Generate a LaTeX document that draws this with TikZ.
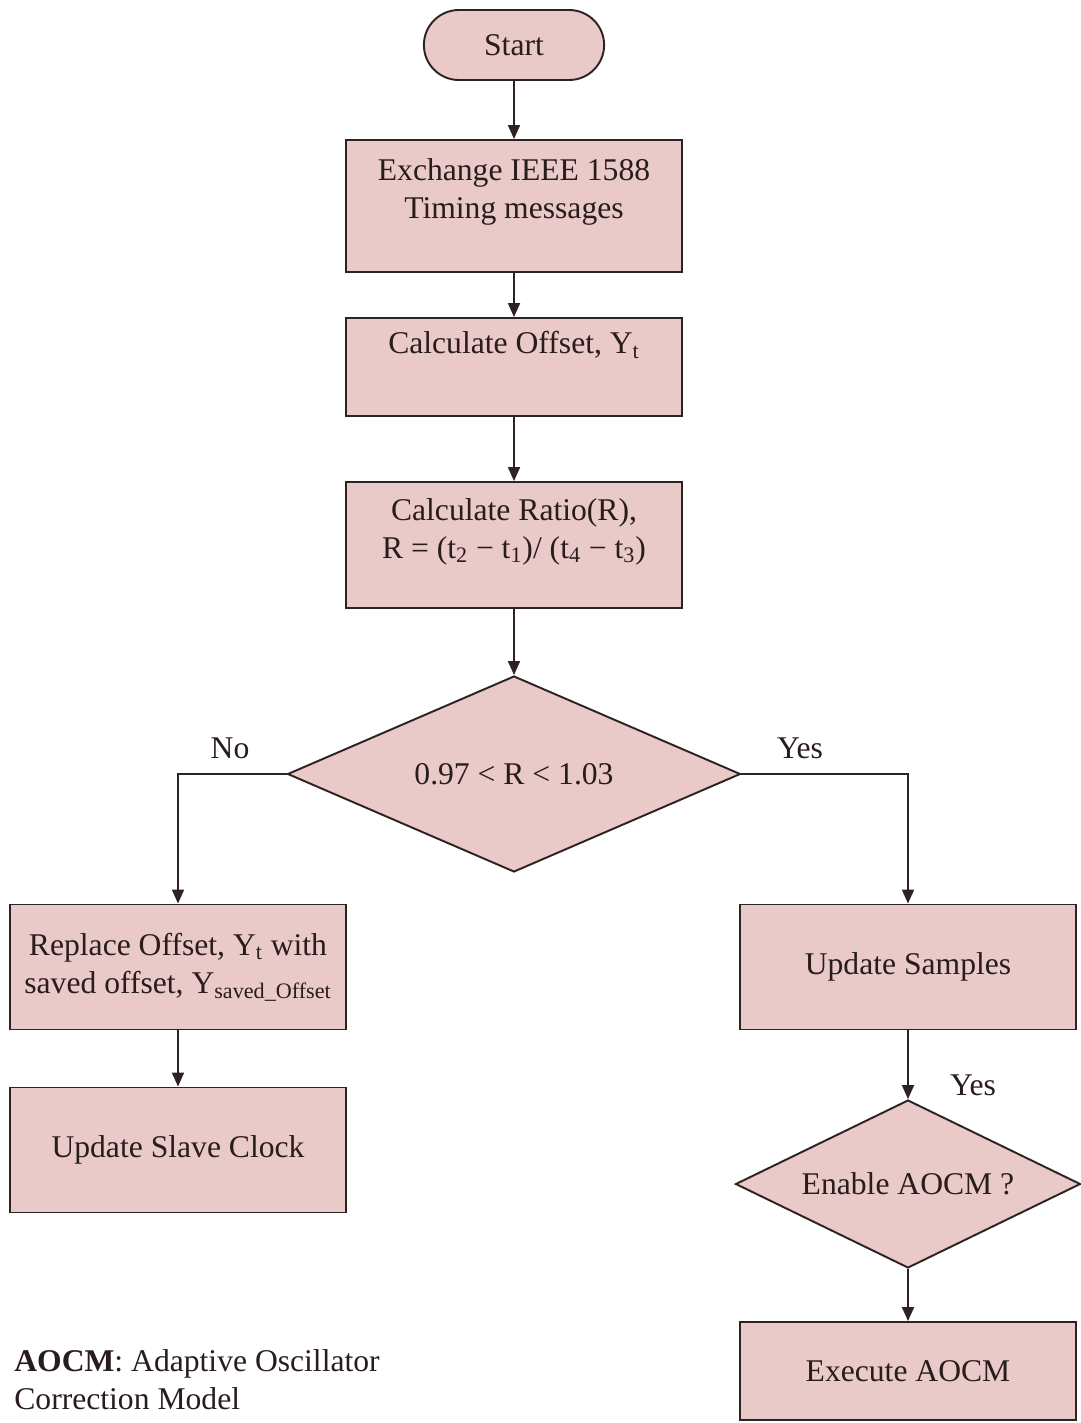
\documentclass[tikz,border=0pt]{standalone}
\usepackage{fontspec}
\setmainfont{Liberation Serif}
\usetikzlibrary{shapes.geometric,shapes.misc,arrows.meta}

\definecolor{caixa}{RGB}{234,201,201}
\definecolor{linha}{RGB}{45,35,35}
\definecolor{texto}{RGB}{40,28,28}

\tikzset{
  bloco/.style={draw=linha, line width=1.1pt, fill=caixa, minimum width=6.72cm, align=center, inner sep=0pt},
  decisao/.style={diamond, draw=linha, line width=1.1pt, fill=caixa, aspect=2.3, inner sep=0pt},
  inicio/.style={rounded rectangle, draw=linha, line width=1.1pt, fill=caixa, minimum width=3.84cm, minimum height=1.4cm},
  seta/.style={draw=linha, line width=1.1pt, -{Triangle[length=0.28cm,width=0.24cm]}},
  rotulo/.style={inner sep=0pt}
}

\begin{document}
\begin{tikzpicture}[x=0.02cm, y=-0.02cm, font=\fontsize{18}{21.6}\selectfont, text=texto]
      \useasboundingbox (0,0) rectangle (1080,1423);

      % Coluna central
      \node[inicio] (start) at (514,45) {Start};
      \node[bloco, minimum height=2.64cm] (exch) at (514,206) {Exchange IEEE 1588\\Timing messages\\[-0.28cm]\strut};
      \node[bloco, minimum height=1.96cm] (offset) at (514,367) {Calculate Offset, Y\textsubscript{t}\\\strut};
      \node[bloco, minimum height=2.52cm] (ratio) at (514,545) {Calculate Ratio(R),\\R = (t\textsubscript{2} − t\textsubscript{1})/ (t\textsubscript{4} − t\textsubscript{3})\\[-0.32cm]\strut};
      \node[decisao, minimum width=9.06cm, minimum height=3.92cm] (cond) at (514,774) {0.97 < R < 1.03};

      % Ramo esquerdo
      \node[bloco, minimum height=2.5cm] (replace) at (178,967) {Replace Offset, Y\textsubscript{t} with\\saved offset, Y\textsubscript{saved\_Offset}};
      \node[bloco, minimum height=2.5cm] (slave) at (178,1150) {Update Slave Clock};

      % Ramo direito
      \node[bloco, minimum height=2.5cm] (samples) at (908,967) {Update Samples};
      \node[decisao, minimum width=6.9cm, minimum height=3.36cm] (enable) at (908,1184) {Enable AOCM ?};
      \node[bloco, minimum height=1.96cm] (exec) at (908,1371) {Execute AOCM};

      % Setas
      \draw[seta] (start) -- (exch);
      \draw[seta] (exch) -- (offset);
      \draw[seta] (offset) -- (ratio);
      \draw[seta] (ratio) -- (cond);
      \draw[seta] (cond.west) -| (replace.north);
      \draw[seta] (cond.east) -| (samples.north);
      \draw[seta] (replace) -- (slave);
      \draw[seta] (samples) -- (enable);
      \draw[seta] (enable) -- (exec);

      % Rotulos
      \node[rotulo] (no) at (230,748) {No};
      \node[rotulo] (yes) at (800,748) {Yes};
      \node[rotulo] (yesb) at (973,1085) {Yes};
      \node[rotulo, anchor=north west, align=left] (legenda) at (14,1349) {\textbf{AOCM}: Adaptive Oscillator\\Correction Model};

\end{tikzpicture}
\end{document}
